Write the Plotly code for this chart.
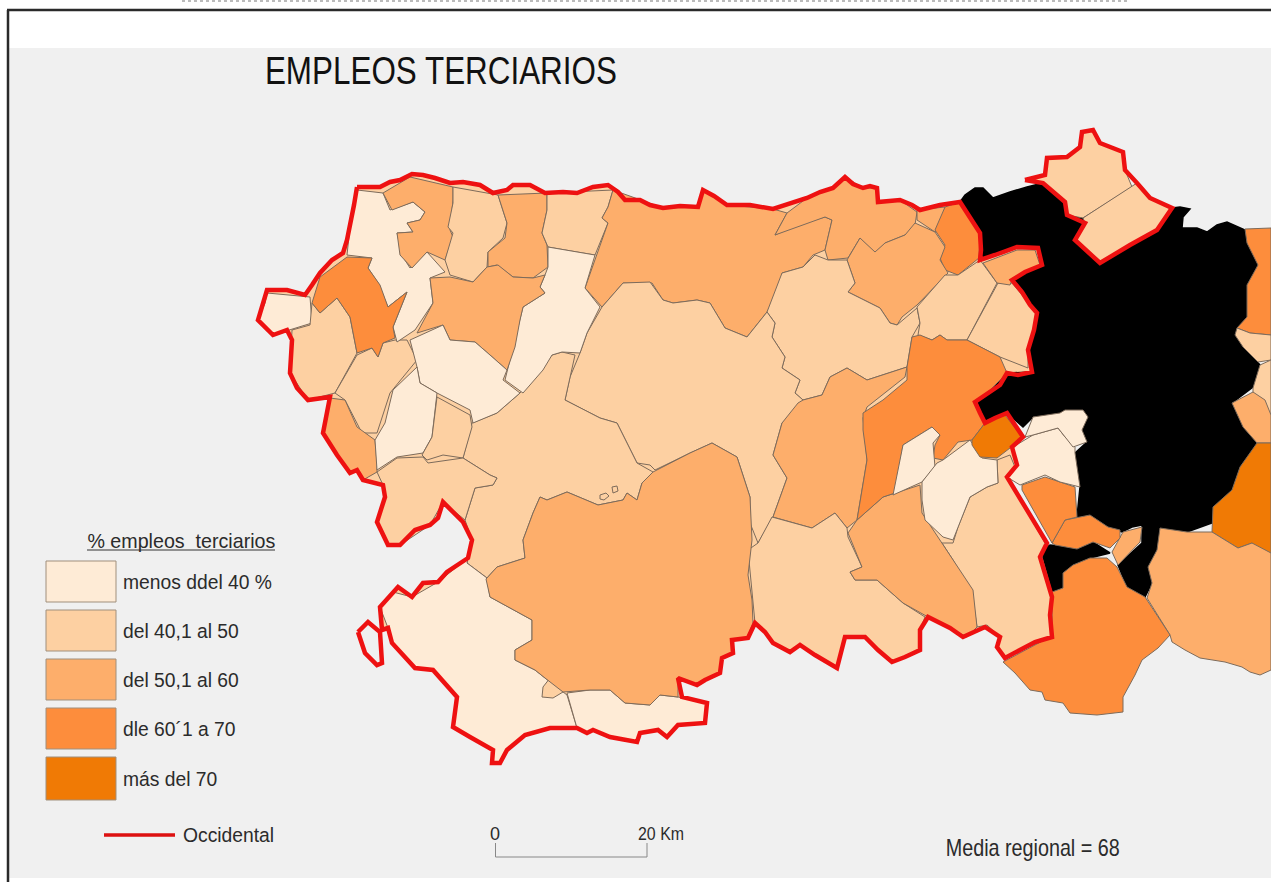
import json
import plotly.graph_objects as go

TITLE = "EMPLEOS TERCIARIOS"
LEGEND_TITLE = "% empleos  terciarios"
CLASS_LABELS = ["menos ddel 40 %", "del 40,1 al 50", "del 50,1 al 60", "dle 60´1 a 70", "más del 70"]
CLASS_COLORS = ["#FEEBD6", "#FDD0A2", "#FDAE6B", "#FD8D3C", "#F07A05"]
LINE_LABEL = "Occidental"
MEAN_LABEL = "Media regional = 68"
SCALE_LABEL = "20 Km"

OCCIDENTAL = [(357,187),(380,187),(390,182),(400,180),(412,174),(423,175),(435,178),(450,183),(463,182),(480,185),(493,193),(507,190),(513,185),(530,185),(545,193),(563,192),(577,193),(593,187),(608,185),(618,192),(625,200),(640,200),(650,205),(663,208),(680,206),(698,207),(703,190),(714,196),(727,205),(750,205),(773,209),(790,203),(807,198),(820,192),(833,188),(845,177),(853,184),(863,188),(870,186),(877,188),(878,202),(900,200),(912,205),(920,210),(940,205),(960,202),(968,215),(980,233),(981,250),(980,260),(995,255),(1017,247),(1038,248),(1042,265),(1025,272),(1012,280),(1022,292),(1030,305),(1037,313),(1034,330),(1028,350),(1032,372),(1018,375),(1007,373),(1000,385),(988,393),(975,402),(980,413),(985,423),(995,418),(1007,413),(1015,425),(1023,437),(1012,447),(1017,465),(1007,477),(1020,498),(1034,522),(1047,543),(1040,557),(1045,575),(1052,597),(1050,615),(1052,637),(1035,642),(1020,650),(1005,658),(997,647),(1000,637),(985,627),(975,632),(963,637),(950,628),(928,617),(920,630),(920,650),(905,657),(892,662),(878,650),(865,637),(845,637),(837,668),(815,655),(800,645),(790,652),(773,643),(765,632),(755,623),(748,638),(732,640),(733,653),(722,658),(720,673),(705,680),(697,685),(678,678),(682,697),(707,703),(705,723),(678,725),(667,737),(658,730),(640,733),(637,742),(610,737),(593,730),(587,733),(577,728),(550,728),(525,735),(507,750),(500,763),(492,763),(493,750),(470,737),(453,727),(457,697),(433,670),(415,668),(392,643),(388,628),(382,630),(380,607),(393,592),(398,587),(412,597),(423,583),(438,582),(447,572),(468,558),(472,540),(463,522),(443,502),(438,518),(430,525),(415,530),(400,545),(388,545),(377,522),(385,497),(383,485),(363,480),(357,470),(350,473),(337,455),(323,433),(330,397),(308,400),(297,388),(290,373),(292,340),(287,330),(273,335),(258,320),(263,303),(267,290),(287,290),(305,295),(312,285),(320,273),(332,260),(343,253),(347,240),(350,227),(354,205)]
ISLAND = [(358,632),(368,622),(380,632),(382,663),(377,665),(365,653),(358,632)]
ENCLAVE = [(1025,180),(1045,175),(1047,158),(1067,157),(1080,147),(1082,132),(1093,130),(1100,143),(1123,152),(1125,170),(1137,183),(1150,198),(1172,208),(1157,230),(1130,245),(1100,263),(1075,240),(1085,223),(1067,215),(1065,202),(1043,183),(1025,180)]

BLACK_MAIN = [(960,202),(965,195),(975,188),(983,188),(993,198),(1010,192),(1027,187),(1043,183),(1100,180),(1172,208),(1180,207),(1190,209),(1183,217),(1182,228),(1197,228),(1207,232),(1217,225),(1227,222),(1245,230),(1247,243),(1258,265),(1247,285),(1247,317),(1235,333),(1243,347),(1260,365),(1253,387),(1232,403),(1243,427),(1257,443),(1240,467),(1232,490),(1213,507),(1212,523),(1187,532),(1160,528),(1157,550),(1148,567),(1152,583),(1145,597),(1127,587),(1118,565),(1142,543),(1142,525),(1132,527),(1122,532),(1107,527),(1093,517),(1077,517),(1080,487),(1075,453),(1087,442),(1082,430),(1088,417),(1083,410),(1065,410),(1060,413),(1033,417),(1023,427),(1007,413),(985,423),(975,402),(1007,373),(1032,372),(1028,350),(1037,313),(1012,280),(1042,265),(1038,248),(1017,247),(980,260),(980,233)]
BLACK_SOUTH = [(1040,557),(1047,547),(1050,545),(1080,548),(1093,542),(1110,553),(1090,558),(1073,565),(1063,573),(1063,588),(1053,592),(1048,577)]
BLACK_EAST = [(1250,480),(1267,465),(1271,467),(1271,480),(1255,492)]

NE_A = [(1043,183),(1025,180),(1045,175),(1047,158),(1067,157),(1080,147),(1082,132),(1093,130),(1100,143),(1123,152),(1125,170),(1132,187),(1083,218),(1067,215),(1065,202)]
NE_B = [(1083,218),(1132,187),(1137,183),(1150,198),(1172,208),(1157,230),(1130,245),(1100,263),(1075,240),(1085,223)]
EAST_1 = [(1245,229),(1271,228),(1271,335),(1250,333),(1237,328),(1247,317),(1247,285),(1258,265),(1247,243)]
EAST_2 = [(1237,328),(1250,333),(1271,335),(1271,360),(1258,362),(1243,347),(1235,335)]
EAST_3 = [(1253,388),(1260,365),(1271,360),(1271,440),(1267,440),(1265,410),(1253,393)]
EAST_4 = [(1232,403),(1253,392),(1265,400),(1271,415),(1271,443),(1257,443),(1243,427)]
EAST_5 = [(1213,507),(1232,490),(1240,467),(1257,443),(1271,443),(1271,553),(1260,550),(1252,543),(1238,548),(1212,532)]
EAST_6 = [(1160,528),(1187,532),(1212,532),(1238,548),(1252,543),(1271,553),(1271,670),(1260,675),(1250,672),(1242,667),(1225,662),(1200,658),(1185,650),(1172,642),(1170,635),(1147,598),(1152,583),(1148,567),(1157,550)]
SOUTH_3 = [(1052,592),(1063,588),(1063,573),(1073,565),(1090,558),(1107,558),(1117,567),(1127,587),(1145,597),(1170,635),(1158,648),(1142,660),(1135,675),(1123,697),(1123,712),(1097,715),(1070,713),(1063,703),(1045,700),(1042,692),(1030,690),(1015,673),(1003,662),(1050,637)]
STRIP_1 = [(1142,527),(1140,542),(1118,565),(1112,552),(1123,532)]
BELT_2 = [(1052,543),(1065,520),(1090,515),(1108,527),(1120,530),(1120,538),(1110,548),(1093,542),(1077,549),(1055,545)]
EDGE_3 = [(1022,485),(1045,477),(1075,487),(1077,517),(1065,520),(1052,543),(1022,490)]
CREAM_E1 = [(1013,447),(1033,435),(1058,428),(1065,437),(1075,447),(1075,453),(1080,487),(1060,482),(1045,475),(1020,485),(1007,477),(1017,465)]
CREAM_E2 = [(1025,437),(1033,417),(1060,413),(1065,410),(1083,410),(1088,417),(1082,430),(1087,442),(1073,447),(1065,437),(1058,428),(1033,435)]

NW_CREAM = [(357,190),(383,193),(390,210),(413,202),(425,212),(420,220),(407,223),(413,232),(397,233),(403,257),(410,268),(427,252),(445,272),(430,278),(433,303),(415,330),(397,342),(393,327),(407,292),(388,307),(378,283),(368,268),(372,258),(347,255),(350,227)]
NW_ORANGE = [(347,257),(372,258),(368,268),(380,285),(388,307),(407,292),(393,327),(395,338),(383,343),(378,357),(372,348),(357,353),(350,317),(337,298),(320,313),(312,303),(320,277)]
NW_2 = [(383,193),(410,177),(453,187),(453,200),(450,230),(453,237),(445,260),(427,252),(412,268),(400,255),(397,233),(413,232),(407,223),(420,220),(425,212),(413,202),(392,210)]
NW_3 = [(453,187),(498,195),(507,223),(503,238),(488,252),(487,267),(473,282),(450,275),(445,260),(453,233),(448,227),(453,203)]
NW_4 = [(498,195),(547,193),(547,210),(542,233),(547,245),(548,267),(533,278),(513,277),(497,265),(488,267),(488,252),(505,238),(507,223)]
NW_5 = [(547,193),(613,190),(608,207),(602,218),(608,223),(595,255),(577,252),(548,247),(542,233),(547,210)]
NORTH_A = [(613,190),(640,200),(663,208),(698,207),(703,190),(727,205),(773,209),(787,213),(775,235),(800,224),(825,217),(832,220),(825,250),(813,255),(803,267),(782,273),(783,283),(767,312),(747,337),(725,328),(710,303),(697,300),(673,303),(663,300),(652,283),(623,283),(602,307),(585,288),(597,255),(608,223),(602,218),(608,207)]
NORTH_B = [(787,213),(807,198),(833,188),(845,177),(863,188),(877,188),(878,202),(900,200),(917,212),(915,225),(905,235),(885,243),(875,253),(860,238),(848,258),(828,260),(825,250),(832,220),(825,217),(775,235)]
NE_SMALL = [(917,210),(945,207),(943,222),(935,232),(917,220)]
NE_ORANGE = [(945,207),(960,202),(980,233),(979,258),(958,275),(945,270),(940,258),(945,245),(935,230)]
NORTH_C = [(847,260),(860,238),(875,252),(885,243),(905,235),(915,223),(935,232),(945,247),(940,260),(948,273),(917,305),(902,317),(897,325),(890,323),(880,308),(848,292),(855,283)]
MID_BIG = [(767,312),(782,273),(803,267),(815,255),(828,260),(847,260),(855,283),(848,292),(880,308),(890,323),(897,325),(917,308),(920,323),(912,337),(907,367),(867,380),(847,368),(830,377),(822,395),(803,400),(795,393),(800,380),(782,368),(785,357),(772,337),(775,323)]
MID_E1 = [(917,307),(945,275),(958,275),(980,260),(997,283),(967,340),(947,340),(940,335),(932,340),(918,335),(920,323)]
MID_E2 = [(998,283),(1012,283),(1037,313),(1028,350),(1028,368),(1000,357),(967,340)]
MID_E3 = [(983,263),(1017,250),(1035,250),(1040,265),(1012,280),(1010,285),(997,283)]
ORANGE_LOBE = [(912,337),(920,335),(932,340),(940,335),(947,340),(967,340),(1000,357),(1007,373),(977,403),(985,423),(972,440),(958,442),(943,460),(933,458),(935,445),(940,435),(932,427),(903,445),(895,493),(883,497),(857,520),(867,460),(863,430),(863,413),(883,400),(907,380),(907,367)]
DARK_SMALL = [(972,440),(985,423),(1005,415),(1022,437),(1010,448),(997,458),(980,457),(972,445)]
CREAM_C1 = [(903,445),(932,427),(940,435),(933,443),(935,467),(922,482),(893,495)]
CREAM_C2 = [(922,482),(937,463),(943,460),(970,440),(982,458),(997,460),(998,483),(987,487),(970,497),(958,527),(953,540),(943,537),(925,520),(922,500)]
EAST_SOUTH = [(953,543),(958,527),(970,497),(987,487),(998,483),(997,460),(1010,455),(1015,467),(1007,477),(1045,543),(1042,557),(1052,593),(1052,637),(1003,658),(997,647),(1000,637),(987,625),(977,627),(972,593),(953,560),(942,543)]
MID_S2 = [(848,533),(857,520),(883,497),(920,485),(922,513),(942,543),(953,560),(973,590),(977,627),(967,637),(928,617),(903,603),(877,580),(855,580),(850,572),(862,567),(853,545)]
MID_W2 = [(798,403),(803,400),(822,395),(830,377),(847,368),(867,380),(907,367),(905,377),(867,407),(863,418),(867,460),(857,520),(847,528),(835,513),(812,528),(773,517),(787,478),(773,455),(782,423)]
SOUTH_1 = [(772,517),(812,528),(835,513),(847,528),(848,537),(862,567),(850,572),(855,580),(877,580),(903,603),(925,617),(920,630),(920,650),(892,662),(865,637),(845,637),(837,668),(800,645),(790,652),(773,643),(755,623),(748,550),(758,543)]
CENTER_E = [(602,307),(623,283),(650,282),(663,300),(673,303),(697,300),(710,303),(725,328),(747,337),(767,312),(775,323),(772,337),(785,357),(782,368),(800,380),(795,393),(803,400),(793,413),(782,423),(773,455),(787,478),(773,517),(758,543),(750,523),(750,497),(737,457),(712,443),(690,453),(655,470),(650,465),(637,463),(617,423),(600,418),(565,400),(570,377),(580,353),(587,333)]
CREAM_B = [(548,247),(595,255),(585,288),(600,307),(587,333),(580,353),(562,352),(552,355),(543,370),(523,393),(505,380),(520,320),(523,307),(545,293),(540,287),(545,275),(548,267)]
CENTER_2 = [(430,278),(450,277),(473,282),(487,267),(498,265),(513,277),(533,278),(545,275),(540,287),(545,293),(523,307),(520,320),(515,347),(507,370),(490,355),(475,342),(450,340),(443,325),(417,333),(433,303)]
CREAM_D = [(410,340),(443,325),(450,340),(475,342),(490,355),(507,370),(503,380),(520,393),(497,413),(473,423),(470,410),(437,393),(420,383),(417,367)]
WEST_CREAM = [(267,293),(310,297),(312,323),(290,330),(273,335),(258,320),(265,303)]
WEST_1 = [(312,303),(320,313),(337,298),(350,317),(357,353),(335,393),(308,400),(290,373),(292,330),(310,325)]
WEST_2 = [(357,355),(372,348),(378,357),(383,343),(395,340),(407,340),(417,360),(390,393),(377,433),(362,433),(345,400),(335,393)]
WEST_3 = [(330,398),(345,400),(357,427),(375,440),(377,463),(377,472),(363,480),(357,470),(350,473),(337,455),(323,433)]
CREAM_F = [(417,367),(420,383),(437,393),(432,437),(423,453),(397,457),(377,470),(375,440),(385,423),(393,390)]
SMALL_1 = [(437,397),(470,415),(472,427),(463,458),(443,455),(427,460),(422,455),(432,437)]
SW_1 = [(377,472),(397,458),(423,457),(428,463),(463,458),(490,475),(497,478),(493,485),(475,488),(465,520),(443,502),(430,525),(400,545),(388,545),(377,522),(385,497),(383,485)]
CENTER_W = [(472,423),(497,413),(520,393),(552,355),(562,352),(575,355),(565,400),(600,418),(617,423),(637,463),(653,472),(642,483),(637,500),(627,493),(623,500),(598,505),(567,492),(547,500),(540,497),(533,513),(523,540),(525,558),(497,567),(487,578),(467,563),(472,540),(465,520),(475,488),(493,485),(497,478),(490,475),(463,458)]
BIG_2 = [(712,443),(690,453),(653,472),(642,483),(637,500),(627,493),(623,500),(598,505),(567,492),(547,500),(540,497),(533,513),(523,540),(525,558),(497,567),(486,579),(490,597),(520,613),(532,620),(532,640),(515,650),(515,660),(535,670),(545,678),(563,692),(590,690),(610,690),(625,703),(650,705),(660,695),(678,697),(678,678),(697,685),(705,680),(720,673),(722,658),(733,653),(732,640),(747,638),(753,623),(752,600),(748,575),(752,540),(750,497),(737,457)]
CREAM_S = [(467,563),(487,578),(490,597),(520,613),(532,620),(532,640),(515,650),(515,660),(535,670),(545,678),(563,692),(567,695),(577,728),(550,728),(525,735),(507,750),(500,763),(492,763),(493,750),(453,727),(457,697),(433,670),(415,668),(392,643),(388,628),(380,607),(393,592),(412,597),(438,582),(468,558)]
CREAM_SE = [(567,693),(590,690),(610,690),(625,703),(650,705),(660,695),(678,697),(707,703),(705,723),(678,725),(667,737),(658,730),(640,733),(637,742),(610,737),(593,730),(587,733),(577,728)]
ENCL_S = [(550,678),(563,692),(553,698),(542,697),(543,687)]
LAKE_A = [(600,495),(606,493),(609,496),(604,500),(600,499)]
LAKE_B = [(612,487),(617,486),(618,491),(613,493)]

REGIONS = [
    (BLACK_MAIN, None), (BLACK_SOUTH, None), (BLACK_EAST, None),
    (EAST_1, 3), (EAST_2, 1), (EAST_3, 1), (EAST_4, 2), (EAST_5, 4), (EAST_6, 2),
    (SOUTH_3, 3), (STRIP_1, 2), (BELT_2, 3), (EDGE_3, 3), (CREAM_E1, 0), (CREAM_E2, 0),
    (NE_A, 1), (NE_B, 1), (WEST_CREAM, 0), (WEST_1, 1), (WEST_2, 1), (WEST_3, 2),
    (NW_CREAM, 0), (NW_2, 2), (NW_3, 1), (NW_4, 2), (NW_5, 1), (NORTH_A, 2), (NORTH_B, 2),
    (NE_SMALL, 2), (NE_ORANGE, 3), (NORTH_C, 2), (MID_BIG, 1), (MID_E1, 1), (MID_E2, 1), (MID_E3, 2),
    (CENTER_E, 1), (CENTER_W, 1), (CREAM_B, 0), (CENTER_2, 2), (CREAM_D, 0), (CREAM_F, 0), (SMALL_1, 1),
    (SW_1, 1), (MID_W2, 2), (SOUTH_1, 1), (EAST_SOUTH, 1), (MID_S2, 2), (ORANGE_LOBE, 3),
    (CREAM_C1, 0), (CREAM_C2, 0), (DARK_SMALL, 4), (CREAM_S, 0), (CREAM_SE, 0), (ENCL_S, 1),
    (BIG_2, 2), (NW_ORANGE, 3), (LAKE_A, 1), (LAKE_B, 1),
]

W, H = 1271, 882
BORDER = "#7d6b5b"
RED = "#EE1111"
TEXT = "#2b2b2b"
SANS = "Liberation Sans, Arial"
# rendered widths of the condensed labels of the reference
CONDENSED = {TITLE: 352, "% empleos terciarios": 188, SCALE_LABEL: 46, MEAN_LABEL: 174}


def closed(pts):
    return [p[0] for p in pts] + [pts[0][0]], [p[1] for p in pts] + [pts[0][1]]


fig = go.Figure()
x, y = closed(OCCIDENTAL)
fig.add_trace(go.Scatter(x=x, y=y, mode="lines", fill="toself", fillcolor=CLASS_COLORS[1],
                         line=dict(width=0, color=CLASS_COLORS[1]), hoverinfo="skip", showlegend=False))
for pts, cls in REGIONS:
    x, y = closed(pts)
    black = cls is None
    fig.add_trace(go.Scatter(x=x, y=y, mode="lines", fill="toself",
                             fillcolor="#000000" if black else CLASS_COLORS[cls],
                             line=dict(width=1.5 if black else 1, color="#000000" if black else BORDER),
                             hoverinfo="skip", showlegend=False))
for pts in (OCCIDENTAL, ISLAND, ENCLAVE):
    x, y = closed(pts)
    fig.add_trace(go.Scatter(x=x, y=y, mode="lines", line=dict(width=4.5, color=RED),
                             hoverinfo="skip", showlegend=False))

shapes = [
    dict(type="rect", layer="below", x0=9, x1=W + 5, y0=48, y1=878, fillcolor="#F0F0F0", line_width=0),
    dict(type="line", layer="below", x0=8, x1=8, y0=10, y1=H, line=dict(color="#2a2a2a", width=2.5)),
    dict(type="line", layer="below", x0=7, x1=W, y0=10, y1=10, line=dict(color="#2a2a2a", width=2.5)),
    dict(type="line", layer="below", x0=182, x1=1130, y0=1, y1=1, line=dict(color="#bbbbbb", width=2, dash="dot")),
    dict(type="line", x0=87, x1=275, y0=550, y1=550, line=dict(color="#333333", width=1)),
    dict(type="line", x0=104, x1=175, y0=835, y1=835, line=dict(color="#DD1111", width=3.5)),
    dict(type="line", x0=495.5, x1=495.5, y0=843, y1=857, line=dict(color="#888888", width=1)),
    dict(type="line", x0=495.5, x1=647, y0=857, y1=857, line=dict(color="#888888", width=1.2)),
    dict(type="line", x0=647, x1=647, y0=843, y1=857, line=dict(color="#888888", width=1)),
]
swatch_tops = [561, 610, 659, 708, 757]
swatch_bottoms = [602, 651, 700, 749, 800]
anns = []
for c, lab, t, b in zip(CLASS_COLORS, CLASS_LABELS, swatch_tops, swatch_bottoms):
    shapes.append(dict(type="rect", x0=46, x1=116, y0=t, y1=b, fillcolor=c, line=dict(color="#a08f7c", width=1)))
    anns.append(dict(x=121, y=(t + b) / 2 + 1, text=lab, font=dict(family=SANS, size=19.3, color=TEXT), xanchor="left"))
anns += [
    dict(x=441, y=71, text=TITLE, font=dict(family=SANS, size=38, color="#111111"), xanchor="center"),
    dict(x=181, y=540, text=LEGEND_TITLE, font=dict(family=SANS, size=21, color=TEXT), xanchor="center"),
    dict(x=181, y=835, text=LINE_LABEL, font=dict(family=SANS, size=19.3, color=TEXT), xanchor="left"),
    dict(x=495, y=834, text="0", font=dict(family=SANS, size=18, color=TEXT), xanchor="center"),
    dict(x=661, y=834, text=SCALE_LABEL, font=dict(family=SANS, size=18, color=TEXT), xanchor="center"),
    dict(x=1032, y=847, text=MEAN_LABEL, font=dict(family=SANS, size=24, color=TEXT), xanchor="center"),
]
for a in anns:
    a.update(xref="x", yref="y", showarrow=False, yanchor="middle")

fig.update_layout(width=W, height=H, autosize=False, margin=dict(l=0, r=0, t=0, b=0),
                  paper_bgcolor="#FFFFFF", plot_bgcolor="#FFFFFF", showlegend=False,
                  xaxis=dict(range=[0, W], visible=False, fixedrange=True),
                  yaxis=dict(range=[H, 0], visible=False, fixedrange=True),
                  shapes=shapes, annotations=anns)

POST = """
document.body.style.margin='0';document.body.style.overflow='hidden';
var FIT=%s;
function fitLabels(){
  document.querySelectorAll('.annotation-text').forEach(function(t){
    var w=FIT[t.textContent.replace(/\\s+/g,' ').trim()];
    if(w){t.setAttribute('textLength',w);t.setAttribute('lengthAdjust','spacingAndGlyphs');}
  });
}
fitLabels();setTimeout(fitLabels,0);setTimeout(fitLabels,100);
""" % json.dumps(CONDENSED)
fig.write_html("out.html", config={"displayModeBar": False}, post_script=POST)
